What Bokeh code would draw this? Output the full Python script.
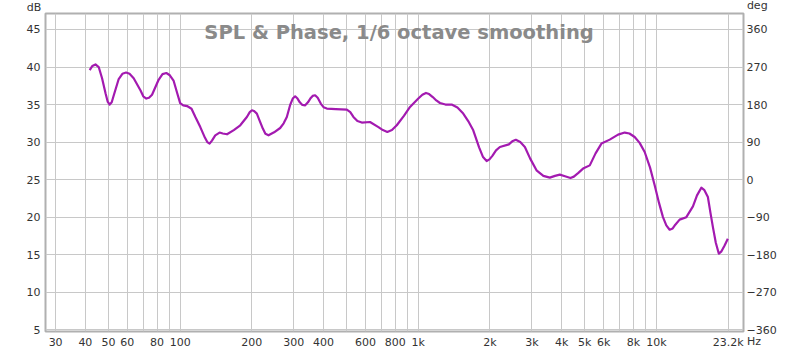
from bokeh.plotting import figure
from bokeh.models import Range1d, LinearAxis, FixedTicker, Label, ColumnDataSource
from bokeh.embed import file_html
from bokeh.resources import INLINE

# SPL curve (Hz, dB)
freq = [41.7, 42.8, 44.1, 45.5, 47.0, 48.6, 49.6, 50.6, 51.6, 52.6, 55.2, 57.2, 59.3,
        61.3, 63.8, 68.1, 70.0, 72.1, 74.0, 76.2, 81.2, 84.3, 87.5, 90.5, 93.8, 97.0,
        100.0, 103.0, 106.9, 111.6, 116.0, 121.5, 127.0, 130.0, 132.9, 136.0, 140.4,
        146.4, 151.0, 157.3, 168.0, 178.8, 190.6, 196.0, 200.2, 204.0, 209.9, 216.0,
        222.4, 228.0, 235.0, 248.0, 263.0, 272.0, 280.5, 290.0, 297.0, 304.0, 311.0,
        318.0, 326.0, 335.0, 344.0, 352.0, 360.0, 368.7, 378.0, 390.0, 400.0, 413.0,
        450.0, 501.0, 518.0, 534.0, 555.0, 579.0, 627.0, 680.0, 710.0, 741.0, 775.0,
        812.0, 870.0, 923.0, 1000.0, 1040.0, 1077.0, 1110.0, 1150.0, 1190.0, 1233.0,
        1300.0, 1380.0, 1460.0, 1544.0, 1620.0, 1701.0, 1800.0, 1870.0, 1936.0, 1990.0,
        2050.0, 2120.0, 2201.0, 2400.0, 2480.0, 2568.0, 2680.0, 2802.0, 2950.0, 3136.0,
        3350.0, 3566.0, 3750.0, 3928.0, 4130.0, 4355.0, 4500.0, 4700.0, 4918.0, 5248.0,
        5550.0, 5875.0, 6365.0, 6900.0, 7357.0, 7700.0, 8101.0, 8500.0, 8924.0, 9400.0,
        9829.0, 10250.0, 10650.0, 11000.0, 11360.0, 11700.0, 12000.0, 12510.0, 13350.0,
        14230.0, 14800.0, 15430.0, 15900.0, 16440.0, 16850.0, 17260.0, 17750.0, 18280.0,
        18700.0, 19300.0, 19940.0]
spl = [39.6, 40.15, 40.35, 40.0, 38.5, 36.5, 35.4, 35.0, 35.3, 36.2, 38.4, 39.1, 39.27,
       39.1, 38.5, 36.9, 36.1, 35.8, 35.9, 36.3, 38.3, 39.05, 39.2, 38.9, 38.2, 36.6,
       35.2, 34.9, 34.8, 34.45, 33.3, 32.0, 30.6, 30.0, 29.8, 30.2, 30.9,
       31.27, 31.15, 31.04, 31.6, 32.24, 33.35, 34.0, 34.24, 34.15, 33.8, 32.8,
       31.8, 31.1, 30.9, 31.3, 31.88, 32.5, 33.35, 35.0, 35.8, 36.1, 35.8,
       35.3, 34.95, 34.9, 35.3, 35.8, 36.15, 36.24, 35.9, 35.1, 34.65, 34.47,
       34.4, 34.33, 34.0, 33.35, 32.8, 32.6, 32.68, 32.0, 31.6, 31.35, 31.6,
       32.24, 33.5, 34.68, 35.8, 36.3, 36.55, 36.4, 36.0, 35.55, 35.21,
       35.0, 35.0, 34.6, 33.8, 32.8, 31.57, 29.3, 28.0, 27.48, 27.7,
       28.2, 28.9, 29.35, 29.7, 30.1, 30.3, 30.0, 29.35, 27.8, 26.24,
       25.5, 25.27, 25.5, 25.67, 25.45, 25.21, 25.4, 25.9, 26.47, 26.9,
       28.5, 29.8, 30.33, 31.0, 31.27, 31.15, 30.68, 29.9, 28.68, 26.6,
       24.24, 21.9, 20.01, 18.9, 18.33, 18.5, 19.0, 19.67, 20.0,
       21.43, 22.9, 23.93, 23.6, 22.68, 20.6, 18.68, 16.6, 15.13,
       15.4, 16.2, 17.13]

x_tick_values = [30, 40, 50, 60, 80, 100, 200, 300, 400, 600, 800, 1000, 2000, 3000,
                 4000, 5000, 6000, 8000, 10000, 20000]
x_tick_labels = ["30", "40", "50", "60", "80", "100", "200", "300", "400", "600", "800",
                 "1k", "2k", "3k", "4k", "5k", "6k", "8k", "10k", "23.2k"]
x_grid_values = [30, 40, 50, 60, 70, 80, 90, 100, 200, 300, 400, 500, 600, 700, 800, 900,
                 1000, 2000, 3000, 4000, 5000, 6000, 7000, 8000, 9000, 10000, 20000]
db_ticks = [5, 10, 15, 20, 25, 30, 35, 40, 45]
deg_ticks = [-360, -270, -180, -90, 0, 90, 180, 270, 360]

title_text = "SPL & Phase, 1/6 octave smoothing"

p = figure(width=800, height=351, x_axis_type="log",
           x_range=Range1d(27.2, 23200), y_range=Range1d(4.77, 47.13),
           output_backend="svg", toolbar_location=None,
           min_border_left=45, min_border_right=57, min_border_top=13, min_border_bottom=20)

p.background_fill_color = "white"
p.border_fill_color = "white"
p.outline_line_color = "#b0b0b0"
p.outline_line_width = 2

p.extra_y_ranges = {"deg": Range1d((4.77 - 25) * 18, (47.13 - 25) * 18)}
right_axis = LinearAxis(y_range_name="deg", ticker=FixedTicker(ticks=deg_ticks))
p.add_layout(right_axis, "right")

p.xaxis.ticker = FixedTicker(ticks=x_tick_values)
p.xaxis.major_label_overrides = {v: t for v, t in zip(x_tick_values, x_tick_labels)}
p.yaxis.ticker = FixedTicker(ticks=db_ticks)
p.yaxis[1].ticker = FixedTicker(ticks=deg_ticks)

for ax in p.xaxis + p.yaxis:
    ax.axis_line_color = None
    ax.major_tick_line_color = None
    ax.minor_tick_line_color = None
    ax.major_tick_out = 0
    ax.major_tick_in = 0
    ax.minor_tick_out = 0
    ax.minor_tick_in = 0
    ax.major_label_text_font = "DejaVu Sans"
    ax.major_label_text_font_size = "11px"
    ax.major_label_text_color = "#333333"
    ax.major_label_standoff = 5
p.xaxis.major_label_standoff = 4
p.yaxis[1].major_label_standoff = 3

p.xgrid.ticker = FixedTicker(ticks=x_grid_values)
p.ygrid.ticker = FixedTicker(ticks=db_ticks)
p.xgrid.grid_line_color = "#c8c8c8"
p.ygrid.grid_line_color = "#c8c8c8"

src = ColumnDataSource(data=dict(f=freq, spl=spl))
p.line("f", "spl", source=src, line_color="#a31ab0", line_width=2.2, line_join="round")

p.add_layout(Label(x=830, y=44.6, text=title_text, text_align="center",
                   text_baseline="alphabetic", text_font="DejaVu Sans",
                   text_font_style="bold", text_font_size="19.5px", text_color="#8a8a8a"))

# unit labels live in the side panels so they are not clipped to the frame
p.add_layout(Label(x=26.1, y=47.97, text="dB", text_align="right", text_baseline="middle",
                   text_font="DejaVu Sans", text_font_size="11px", text_color="#333333"),
             "left")
p.add_layout(Label(x=23970, y=48.13, text="deg", text_align="left", text_baseline="middle",
                   text_font="DejaVu Sans", text_font_size="11px", text_color="#333333"),
             "above")
p.add_layout(Label(x=23970, y=3.44, text="Hz", text_align="left", text_baseline="middle",
                   text_font="DejaVu Sans", text_font_size="11px", text_color="#333333"),
             "right")

open("out.html", "w").write(file_html(p, INLINE))
